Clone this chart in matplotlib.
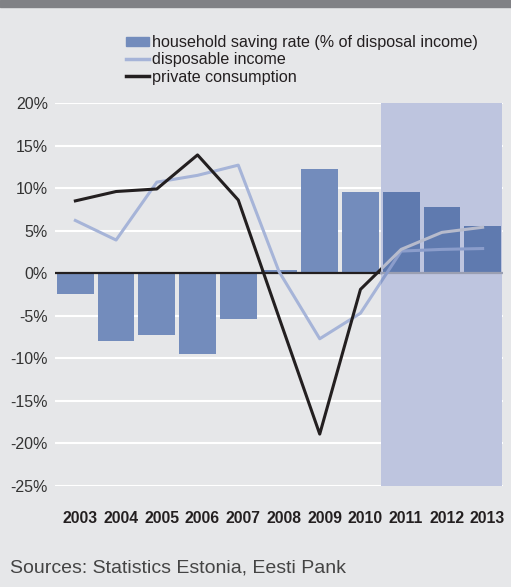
import numpy as np
import matplotlib
matplotlib.use("Agg")
import matplotlib.pyplot as plt
from matplotlib.patches import Patch, Rectangle
from matplotlib.lines import Line2D

plt.rcParams['font.family'] = ['Liberation Sans', 'DejaVu Sans']

# --------------------------
# Data
# --------------------------
years = ['2003', '2004', '2005', '2006', '2007', '2008',
         '2009', '2010', '2011', '2012', '2013']
saving_rate = [-2.5, -8.0, -7.2, -9.5, -5.4, 0.4, 12.2, 9.6, 9.6, 7.8, 5.6]
disposable_income = [6.2, 3.9, 10.7, 11.5, 12.7, 0.2, -7.7, -4.7, 2.6, 2.8, 2.9]
private_consumption = [8.5, 9.6, 9.9, 13.9, 8.6, -5.2, -18.9, -1.9, 2.8, 4.8, 5.4]
forecast_start = 8          # 2011 onwards is forecast
yticks = [20, 15, 10, 5, 0, -5, -10, -15, -20, -25]

bg = '#e6e7e9'
bar_col = '#738cbc'
bar_fc_col = '#5f7aaf'
inc_col = '#a6b4d8'
inc_fc_col = '#8b9dcb'
cons_fc_col = '#b7bbcc'
shade = '#bec5df'

x = np.arange(len(years))

fig = plt.figure(figsize=(5.11, 5.87), dpi=100, facecolor=bg)
ax = fig.add_axes([55/511, 1-486/587, 448/511, 383/587])
ax.set_facecolor(bg)

# top dark strip
fig.patches.append(Rectangle((0, 1-7/587), 1, 7/587, transform=fig.transFigure,
                             color='#808185', zorder=0))

# grid
for v in yticks:
    if v != 0:
        ax.axhline(v, color='white', lw=1.5, zorder=1)

# forecast shading
ax.axvspan(forecast_start-0.5, len(years)-0.52, color=shade, lw=0, zorder=2)

# bars
cols = [bar_col if i < forecast_start else bar_fc_col for i in range(len(years))]
ax.bar(x, saving_rate, width=0.9, color=cols, zorder=3)

# zero line
ax.plot([-0.5, forecast_start-0.5], [0, 0], color='#231f20', lw=1.6, zorder=4)
ax.plot([forecast_start-0.5, len(years)-0.5], [0, 0], color='#9a9fb2', lw=1.6, zorder=4)

# lines: actual part and forecast part, split at the forecast boundary
clip_hist = Rectangle((-0.5, -30), forecast_start, 60, transform=ax.transData)
clip_fc = Rectangle((forecast_start-0.5, -30), 10, 60, transform=ax.transData)

l1, = ax.plot(x, disposable_income, color=inc_col, lw=2.2, zorder=5)
l1.set_clip_path(clip_hist)
l2, = ax.plot(x, disposable_income, color=inc_fc_col, lw=2.2, zorder=5)
l2.set_clip_path(clip_fc)
l3, = ax.plot(x, private_consumption, color='#231f20', lw=2.2, zorder=6)
l3.set_clip_path(clip_hist)
l4, = ax.plot(x, private_consumption, color=cons_fc_col, lw=2.2, zorder=6)
l4.set_clip_path(clip_fc)

ax.set_xlim(-0.5, len(years)-0.5)
ax.set_ylim(-25, 20)
ax.set_yticks(yticks)
ax.set_yticklabels([f'{v}%' for v in yticks], fontsize=11.5, color='#333333')
# year labels sit a little right of the bar centres in the original
ax.set_xticks(x + 0.12)
ax.set_xticklabels(years, fontsize=11.3, fontweight='bold', color='#231f20')
ax.tick_params(axis='y', length=0, pad=5)
ax.tick_params(axis='x', length=0, pad=18)
for s in ax.spines.values():
    s.set_visible(False)

handles = [Patch(color=bar_col),
           Line2D([], [], color=inc_col, lw=2.5),
           Line2D([], [], color='#231f20', lw=2.5)]
labels = ['household saving rate (% of disposal income)',
          'disposable income', 'private consumption']
fig.legend(handles, labels, loc='upper left', bbox_to_anchor=(126/511, 1-35/587),
           frameon=False, fontsize=11.65, handlelength=1.42, handleheight=0.45,
           handletextpad=0.18, labelspacing=0.14, borderaxespad=0, borderpad=0,
           labelcolor='#231f20')

fig.text(10/511, 1-568/587, 'Sources: Statistics Estonia, Eesti Pank',
         fontsize=14, color='#444444', va='center')

fig.savefig('out.png', dpi=100, facecolor=bg)
